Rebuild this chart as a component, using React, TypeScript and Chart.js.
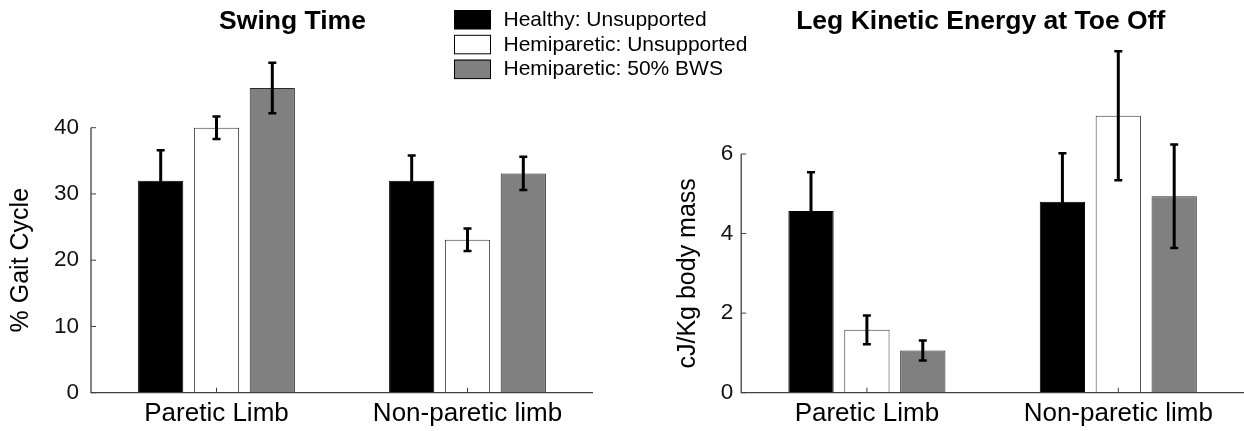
import React, { useEffect, useRef } from "react";
import { Chart, registerables } from "chart.js";

Chart.register(...registerables);

// ---------- data ----------
const categories = ["Paretic Limb", "Non-paretic limb"];
const seriesLabels = ["Healthy: Unsupported", "Hemiparetic: Unsupported", "Hemiparetic: 50% BWS"];
const seriesColors = ["#000000", "#ffffff", "#808080"];
const seriesBorders = ["#000000", "#3a3a3a", "#2a2a2a"];

const swingTitle = "Swing Time";
const swingYLabel = "% Gait Cycle";
const swingTicks = [0, 10, 20, 30, 40];
const swingHealthy = [32, 32];
const swingHealthyErr = [4.6, 3.8];
const swingHemi = [40, 23.1];
const swingHemiErr = [1.7, 1.7];
const swingBws = [46, 33.1];
const swingBwsErr = [3.8, 2.5];

const keTitle = "Leg Kinetic Energy at Toe Off";
const keYLabel = "cJ/Kg body mass";
const keTicks = [0, 2, 4, 6];
const keHealthy = [4.57, 4.8];
const keHealthyErr = [0.97, 1.22];
const keHemi = [1.58, 6.96];
const keHemiErr = [0.36, 1.62];
const keBws = [1.06, 4.94];
const keBwsErr = [0.25, 1.3];

const FONT = "'Liberation Sans', Arial, Helvetica, sans-serif";
const AXIS_COLOR = "#404040";

type PanelCfg = {
  title: string;
  titleX: number; // offset of title centre from chart area left
  yLabel: string;
  yTitlePad: number;
  ticks: number[];
  tickPad: number;
  values: number[][];
  errors: number[][];
  yWidth: number;
  padTop: number;
  padRight: number;
  xHeight: number;
  legend: boolean;
};

function buildChart(canvas: HTMLCanvasElement, cfg: PanelCfg) {
  const panelPlugin = {
    id: "panelExtras",
    afterDatasetsDraw(chart: any) {
      const ctx = chart.ctx as CanvasRenderingContext2D;
      const area = chart.chartArea;
      const y = chart.scales.y;
      const x = chart.scales.x;
      const y0 = y.getPixelForValue(0);
      const yTop = y.getPixelForValue(cfg.ticks[cfg.ticks.length - 1]);
      ctx.save();
      // axes
      ctx.strokeStyle = AXIS_COLOR;
      ctx.lineWidth = 1.3;
      ctx.beginPath();
      ctx.moveTo(area.left, yTop);
      ctx.lineTo(area.left, y0);
      ctx.lineTo(area.right, y0);
      ctx.stroke();
      ctx.lineWidth = 1;
      cfg.ticks.forEach((t) => {
        const py = y.getPixelForValue(t);
        ctx.beginPath();
        ctx.moveTo(area.left, py);
        ctx.lineTo(area.left + 5, py);
        ctx.stroke();
      });
      categories.forEach((_, i) => {
        const px = x.getPixelForValue(i);
        ctx.beginPath();
        ctx.moveTo(px, y0);
        ctx.lineTo(px, y0 - 5);
        ctx.stroke();
      });
      // error bars
      ctx.strokeStyle = "#000";
      chart.data.datasets.forEach((ds: any, di: number) => {
        const meta = chart.getDatasetMeta(di);
        meta.data.forEach((bar: any, i: number) => {
          const v = ds.data[i];
          const e = cfg.errors[di][i];
          const yHi = y.getPixelForValue(v + e);
          const yLo = y.getPixelForValue(v - e);
          ctx.lineWidth = 3;
          ctx.beginPath();
          ctx.moveTo(bar.x, yHi);
          ctx.lineTo(bar.x, yLo);
          ctx.stroke();
          ctx.lineWidth = 2.5;
          ctx.beginPath();
          ctx.moveTo(bar.x - 4, yHi);
          ctx.lineTo(bar.x + 4, yHi);
          ctx.moveTo(bar.x - 4, yLo);
          ctx.lineTo(bar.x + 4, yLo);
          ctx.stroke();
        });
      });
      // title
      ctx.fillStyle = "#000";
      ctx.font = `bold 26.5px ${FONT}`;
      ctx.textAlign = "center";
      ctx.textBaseline = "alphabetic";
      ctx.fillText(cfg.title, area.left + cfg.titleX, 28.5);
      // legend
      if (cfg.legend) {
        ctx.font = `21px ${FONT}`;
        ctx.textAlign = "left";
        ctx.textBaseline = "middle";
        seriesLabels.forEach((lab, i) => {
          const by = 10 + i * 24.8;
          ctx.fillStyle = seriesColors[i];
          ctx.fillRect(454.5, by, 36, 19);
          ctx.strokeStyle = "#000";
          ctx.lineWidth = 1;
          ctx.strokeRect(454.5, by + 0.5, 36, 18.5);
          ctx.fillStyle = "#000";
          ctx.fillText(lab, 503.5, by + 10);
        });
      }
      ctx.restore();
    },
  };

  return new Chart(canvas, {
    type: "bar",
    data: {
      labels: categories,
      datasets: seriesLabels.map((lab, i) => ({
        label: lab,
        data: cfg.values[i],
        backgroundColor: seriesColors[i],
        borderColor: seriesBorders[i],
        borderWidth: 1,
        categoryPercentage: 0.667,
        barPercentage: 0.81,
        clip: false as any,
      })),
    },
    options: {
      responsive: false,
      animation: false,
      events: [],
      layout: { padding: { top: cfg.padTop, right: cfg.padRight, left: 0, bottom: 0 } },
      plugins: {
        legend: { display: false },
        title: { display: false },
        tooltip: { enabled: false },
      },
      scales: {
        x: {
          type: "category",
          offset: true,
          grid: { display: false, drawTicks: false },
          border: { display: false },
          ticks: {
            color: "#000",
            font: { family: FONT, size: 26 },
            padding: 6,
            maxRotation: 0,
            autoSkip: false,
          },
          afterFit: (s: any) => {
            s.height = cfg.xHeight;
          },
        },
        y: {
          type: "linear",
          min: cfg.ticks[0],
          max: cfg.ticks[cfg.ticks.length - 1],
          grid: { display: false, drawTicks: false },
          border: { display: false },
          afterBuildTicks: (s: any) => {
            s.ticks = cfg.ticks.map((v) => ({ value: v }));
          },
          ticks: {
            color: "#111",
            font: { family: FONT, size: 22.5 },
            padding: cfg.tickPad,
          },
          title: {
            display: true,
            text: cfg.yLabel,
            color: "#000",
            font: { family: FONT, size: 25 },
            padding: { top: cfg.yTitlePad, bottom: 0 },
          },
          afterFit: (s: any) => {
            s.width = cfg.yWidth;
          },
        },
      },
    },
    plugins: [panelPlugin],
  });
}

export default function App() {
  const leftRef = useRef<HTMLCanvasElement>(null);
  const rightRef = useRef<HTMLCanvasElement>(null);

  useEffect(() => {
    document.body.style.margin = "0";
    const left = buildChart(leftRef.current!, {
      title: swingTitle,
      titleX: 201.5,
      yLabel: swingYLabel,
      yTitlePad: 6,
      ticks: swingTicks,
      tickPad: 12,
      values: [swingHealthy, swingHemi, swingBws],
      errors: [swingHealthyErr, swingHemiErr, swingBwsErr],
      yWidth: 91,
      padTop: 127.7,
      padRight: 207,
      xHeight: 38.3,
      legend: true,
    });
    const right = buildChart(rightRef.current!, {
      title: keTitle,
      titleX: 239.5,
      yLabel: keYLabel,
      yTitlePad: 33,
      ticks: keTicks,
      tickPad: 8,
      values: [keHealthy, keHemi, keBws],
      errors: [keHealthyErr, keHemiErr, keBwsErr],
      yWidth: 101.2,
      padTop: 154,
      padRight: 0,
      xHeight: 38.3,
      legend: false,
    });
    return () => {
      left.destroy();
      right.destroy();
    };
  }, []);

  return (
    <div
      style={{
        position: "fixed",
        left: 0,
        top: 0,
        width: 1244,
        height: 431,
        background: "#fff",
        overflow: "hidden",
      }}
    >
      <canvas
        ref={leftRef}
        width={800}
        height={431}
        style={{ position: "absolute", left: 0, top: 0, width: 800, height: 431 }}
      />
      <canvas
        ref={rightRef}
        width={604}
        height={431}
        style={{ position: "absolute", left: 640, top: 0, width: 604, height: 431 }}
      />
    </div>
  );
}
